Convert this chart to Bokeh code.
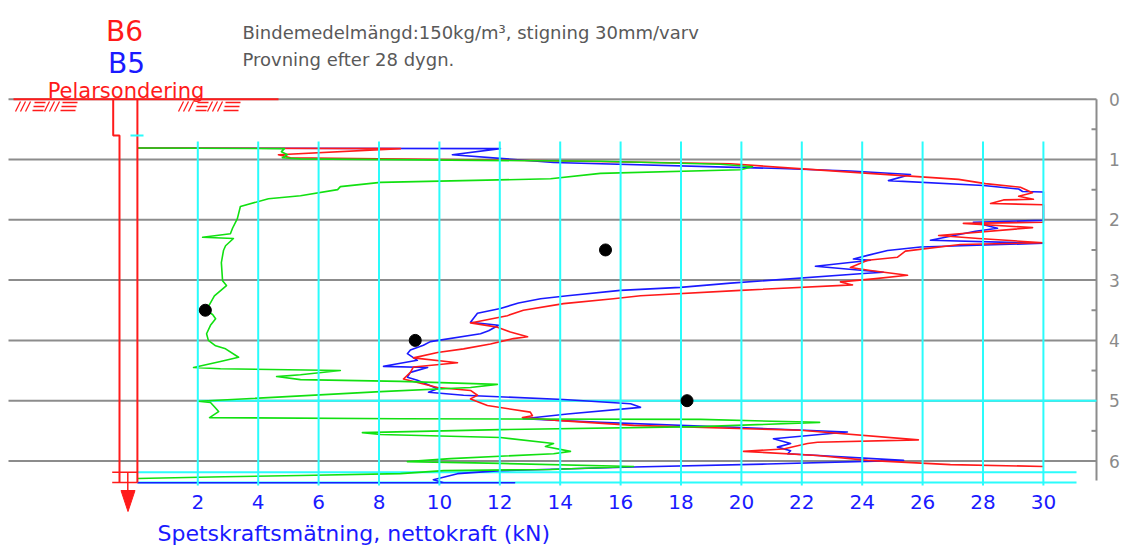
from bokeh.plotting import figure
from bokeh.models import Range1d
from bokeh.embed import file_html
from bokeh.resources import INLINE
from bokeh.core.properties import value

# ---------------------------------------------------------------- data
FORCE_TICKS = [2, 4, 6, 8, 10, 12, 14, 16, 18, 20, 22, 24, 26, 28, 30]
FORCE_TICK_LABELS = [str(t) for t in FORCE_TICKS]
DEPTH_TICKS = [0, 1, 2, 3, 4, 5, 6]
DEPTH_TICK_LABELS = [str(t) for t in DEPTH_TICKS]
DEPTH_HALF_TICKS = [0.5, 1.5, 2.5, 3.5, 4.5, 5.5]

X_TITLE = "Spetskraftsmätning, nettokraft (kN)"
LABEL_B6 = "B6"
LABEL_B5 = "B5"
LABEL_METHOD = "Pelarsondering"
NOTE_1 = "Bindemedelmängd:150kg/m³, stigning 30mm/varv"
NOTE_2 = "Provning efter 28 dygn."

# (depth m, net force kN)
B6_PROFILE = [
    (0.81, 0.00), (0.82, 8.71), (0.92, 4.67), (0.97, 5.07), (1.02, 13.68),
    (1.07, 19.64), (1.13, 21.29), (1.21, 23.61), (1.33, 27.19), (1.40, 28.08),
    (1.46, 29.24), (1.55, 29.64), (1.61, 29.18), (1.66, 29.67), (1.67, 28.68),
    (1.73, 28.25), (1.75, 30.0), (2.04, 30.0), (2.06, 27.35), (2.13, 29.64),
    (2.26, 26.53), (2.31, 27.85), (2.38, 30.0), (2.41, 27.25), (2.52, 25.43),
    (2.62, 25.17), (2.67, 24.18), (2.79, 23.61), (2.84, 24.27), (2.92, 25.50),
    (2.98, 24.37), (3.03, 23.28), (3.08, 23.68), (3.17, 19.97), (3.26, 16.66),
    (3.31, 15.76), (3.39, 14.11), (3.50, 12.78), (3.59, 12.25), (3.71, 11.03),
    (3.78, 11.92), (3.86, 12.35), (3.94, 12.92), (3.97, 12.45), (4.06, 11.69),
    (4.14, 10.80), (4.20, 9.94), (4.29, 9.14), (4.37, 10.60), (4.44, 9.14),
    (4.53, 9.04), (4.64, 8.81), (4.78, 9.94), (4.83, 11.03), (4.91, 11.26),
    (4.97, 11.03), (5.08, 11.59), (5.19, 13.01), (5.25, 13.08), (5.28, 12.75),
    (5.33, 14.01), (5.41, 16.43), (5.49, 21.96), (5.65, 25.86), (5.69, 22.52),
    (5.71, 22.19), (5.80, 21.39), (5.84, 20.07), (5.91, 22.52), (5.99, 24.18),
    (6.06, 26.92), (6.09, 30.0),
]

B5_PROFILE = [
    (0.81, 0.00), (0.82, 12.02), (0.92, 10.43), (1.05, 13.78), (1.15, 21.29),
    (1.19, 23.61), (1.25, 25.60), (1.35, 24.87), (1.43, 28.02), (1.49, 29.18),
    (1.53, 29.31), (1.54, 30.0), (2.01, 30.0), (2.04, 27.68), (2.14, 28.48),
    (2.19, 27.75), (2.34, 26.26), (2.39, 30.0), (2.45, 25.93), (2.51, 24.84),
    (2.59, 24.18), (2.65, 23.71), (2.67, 24.27), (2.77, 22.45), (2.87, 24.70),
    (2.89, 24.04), (3.05, 19.64), (3.12, 17.98), (3.17, 15.99), (3.26, 14.24),
    (3.31, 13.35), (3.38, 12.62), (3.47, 12.02), (3.55, 11.26), (3.70, 11.03),
    (3.75, 11.96), (3.84, 11.63), (3.89, 11.36), (4.02, 9.70), (4.08, 9.47),
    (4.16, 9.04), (4.22, 8.94), (4.33, 9.27), (4.43, 8.15), (4.45, 9.61),
    (4.53, 9.04), (4.61, 8.94), (4.66, 9.27), (4.80, 9.94), (4.86, 9.64),
    (4.91, 10.80), (4.98, 14.11), (5.05, 16.33), (5.11, 16.66), (5.22, 14.24),
    (5.30, 12.78), (5.36, 15.33), (5.44, 19.74), (5.52, 23.51), (5.63, 21.06),
    (5.71, 21.63), (5.77, 21.19), (5.83, 21.63), (5.88, 21.53), (5.99, 25.37),
    (6.05, 20.86), (6.10, 16.43), (6.16, 12.02), (6.21, 10.60), (6.31, 9.80),
    (6.36, 10.14), (6.36, 12.49), (6.36, 0.00),
]

GREEN_PROFILE = [
    (0.81, 0.00), (0.82, 4.87), (0.87, 4.77), (0.92, 4.97), (0.97, 4.80),
    (0.99, 5.40), (1.03, 15.33), (1.08, 19.31), (1.12, 20.37), (1.17, 19.97),
    (1.23, 15.33), (1.32, 13.68), (1.38, 8.05), (1.45, 6.72), (1.50, 6.63),
    (1.60, 5.40), (1.65, 4.34), (1.78, 3.41), (1.98, 3.31), (2.14, 3.15),
    (2.23, 3.08), (2.29, 2.16), (2.31, 3.18), (2.43, 2.92), (2.51, 2.85),
    (2.71, 2.78), (3.01, 2.82), (3.09, 2.95), (3.26, 2.55), (3.44, 2.35),
    (3.50, 2.25), (3.57, 2.49), (3.64, 2.59), (3.75, 2.42), (3.89, 2.29),
    (4.00, 2.35), (4.09, 2.59), (4.14, 2.92), (4.28, 3.35), (4.35, 2.75),
    (4.45, 1.86), (4.47, 2.75), (4.50, 6.72), (4.57, 5.40), (4.60, 4.61),
    (4.65, 5.40), (4.68, 8.71), (4.73, 11.92), (4.78, 11.03), (4.85, 8.05),
    (5.01, 2.02), (5.03, 2.42), (5.10, 2.55), (5.18, 2.69), (5.28, 2.39),
    (5.30, 8.71), (5.31, 18.65), (5.36, 22.59), (5.43, 18.65), (5.48, 12.02),
    (5.53, 7.45), (5.56, 8.05), (5.61, 12.02), (5.71, 13.78), (5.76, 13.51),
    (5.84, 14.34), (5.88, 13.78), (5.96, 10.37), (6.01, 8.94), (6.04, 12.02),
    (6.09, 16.43), (6.14, 13.68), (6.16, 10.14), (6.21, 8.71), (6.24, 5.40),
    (6.26, 2.88), (6.29, 0.00),
]

POINT_DEPTH = [2.5, 3.5, 4.0, 5.0]
POINT_FORCE = [15.5, 2.25, 9.2, 18.2]

# ---------------------------------------------------------------- layout
# Bokeh's page template removes the body margin, so the canvas starts at (0, 0)
W, H = 1122, 547
X0, KX = 136.9, 30.2     # px of 0 kN, px per kN
Y0, KY = 98.7, 60.3      # px of 0 m, px per m


def fx(px):
    return (px - X0) / KX


def fy(py):
    return (py - Y0) / KY


RED = "#ff1a1a"
BLUE = "#1a1aff"
GREEN = "#11e011"
CYAN = "#2afcfc"
GRAY = "#8c8c8c"
TEXT_GRAY = "#595959"
FONT = value("DejaVu Sans")

p = figure(width=W, height=H,
           x_range=Range1d(fx(0), fx(W)),
           y_range=Range1d(fy(H), fy(0)),
           output_backend="svg", toolbar_location=None,
           x_axis_location=None, y_axis_location=None,
           min_border=0, outline_line_color=None,
           background_fill_color="white", border_fill_color="white")
p.xgrid.visible = False
p.ygrid.visible = False

x_left = fx(8)
x_axis = fx(1096)

# gray depth lines
depth_lines = DEPTH_TICKS
p.segment(x0=[x_left] * len(depth_lines), x1=[x_axis] * len(depth_lines),
          y0=depth_lines, y1=depth_lines, line_color=GRAY, line_width=2)
# right depth axis
p.segment(x0=[x_axis], x1=[x_axis], y0=[0], y1=[fy(480)], line_color=GRAY, line_width=2)
p.segment(x0=[fx(1091)] * len(DEPTH_HALF_TICKS), x1=[x_axis] * len(DEPTH_HALF_TICKS),
          y0=DEPTH_HALF_TICKS, y1=DEPTH_HALF_TICKS, line_color=GRAY, line_width=2)
# ground surface (red)
p.segment(x0=[fx(13)], x1=[fx(278)], y0=[0], y1=[0], line_color=RED, line_width=2)

# cyan horizontal lines (under curves)
p.segment(x0=[0, 0, FORCE_TICKS[0]], x1=[fx(1076), fx(1076), x_axis],
          y0=[fy(471.7), fy(482), 5], y1=[fy(471.7), fy(482), 5],
          line_color=CYAN, line_width=2)

# curves
for prof, col in ((B5_PROFILE, BLUE), (B6_PROFILE, RED), (GREEN_PROFILE, GREEN)):
    p.line(x=[f for d, f in prof], y=[d for d, f in prof],
           line_color=col, line_width=1.6, line_join="round")

# cyan vertical lines (on top)
n = len(FORCE_TICKS)
p.segment(x0=FORCE_TICKS, x1=FORCE_TICKS, y0=[fy(141)] * n, y1=[fy(485)] * n,
          line_color=CYAN, line_width=2)

# pile symbol
p.line(x=[fx(112.7), fx(112.7), fx(119), fx(119)],
       y=[0, fy(135), fy(135), fy(482)], line_color=RED, line_width=2)
p.segment(x0=[0], x1=[0], y0=[0], y1=[fy(482)], line_color=RED, line_width=2)
p.segment(x0=[fx(111.7), fx(111.7)], x1=[0, 0], y0=[fy(471.7), fy(482)],
          y1=[fy(471.7), fy(482)], line_color=RED, line_width=1.5)
p.segment(x0=[fx(127.3)], x1=[fx(127.3)], y0=[fy(471.7)], y1=[fy(492)],
          line_color=RED, line_width=1.5)
p.patch(x=[fx(120.5), fx(134.5), fx(127.5)], y=[fy(490), fy(490), fy(511)],
        fill_color=RED, line_color=RED)
p.segment(x0=[fx(130)], x1=[fx(143)], y0=[fy(135)], y1=[fy(135)],
          line_color=CYAN, line_width=2)

# ground hatching symbols
hx0, hx1, hy0, hy1 = [], [], [], []
for gx in (15, 178):
    for base in (gx, gx + 29):
        for i in range(3):
            hx0.append(fx(base + i * 5)); hy0.append(fy(111))
            hx1.append(fx(base + i * 5 + 5)); hy1.append(fy(101))
    for base in (gx + 17, gx + 45):
        length = 11 if base == gx + 17 else 15
        for j, yy in enumerate((102, 106, 110)):
            shift = 2 - j
            hx0.append(fx(base + shift)); hy0.append(fy(yy))
            hx1.append(fx(base + shift + length)); hy1.append(fy(yy))
p.segment(x0=hx0, x1=hx1, y0=hy0, y1=hy1, line_color=RED, line_width=1.3)

# sample points
p.scatter(x=POINT_FORCE, y=POINT_DEPTH, size=12, color="black")

# texts
p.text(x=FORCE_TICKS, y=[fy(501)] * n, text=FORCE_TICK_LABELS,
       text_font=FONT, text_font_size="20px", text_color=BLUE,
       text_align="center", text_baseline="middle")
p.text(x=[fx(157)], y=[fy(533)], text=[X_TITLE], text_font=FONT,
       text_font_size="22px", text_color=BLUE, text_align="left",
       text_baseline="alphabetic")
p.text(x=[fx(1114)] * len(DEPTH_TICKS), y=DEPTH_TICKS, text=DEPTH_TICK_LABELS,
       text_font=FONT, text_font_size="17px", text_color="#8a8a8a",
       text_align="center", text_baseline="middle")
p.text(x=[fx(124)], y=[fy(31)], text=[LABEL_B6], text_font=FONT,
       text_font_size="28px", text_color=RED, text_align="center",
       text_baseline="alphabetic")
p.text(x=[fx(126)], y=[fy(63)], text=[LABEL_B5], text_font=FONT,
       text_font_size="28px", text_color=BLUE, text_align="center",
       text_baseline="alphabetic")
p.text(x=[fx(125.5)], y=[fy(90)], text=[LABEL_METHOD], text_font=FONT,
       text_font_size="21px", text_color=RED, text_align="center",
       text_baseline="alphabetic")
p.text(x=[fx(242)], y=[fy(32)], text=[NOTE_1], text_font=FONT,
       text_font_size="18px", text_color=TEXT_GRAY, text_align="left",
       text_baseline="alphabetic")
p.text(x=[fx(242)], y=[fy(59)], text=[NOTE_2], text_font=FONT,
       text_font_size="18px", text_color=TEXT_GRAY, text_align="left",
       text_baseline="alphabetic")

open("out.html", "w").write(file_html(p, INLINE))
